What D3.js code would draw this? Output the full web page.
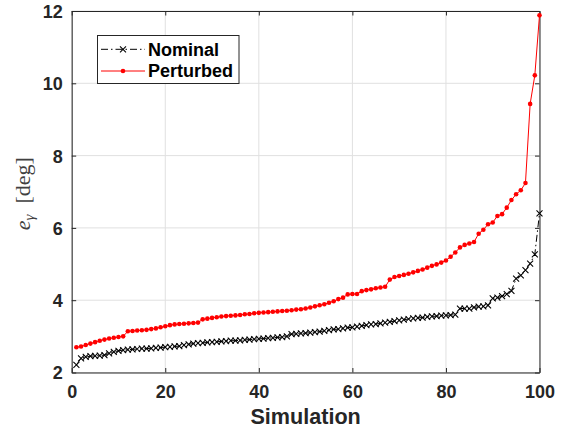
<!DOCTYPE html>
<html>
<head>
<meta charset="utf-8">
<script src="https://cdn.jsdelivr.net/npm/d3@7"></script>
<style>
  html, body { margin: 0; padding: 0; background: #fff; }
  svg { display: block; }
</style>
</head>
<body>
<svg id="chart" width="569" height="431"></svg>
<script>
// ---- data ----
const simulations = d3.range(1, 101);
const nominal = [
  2.21, 2.39, 2.43, 2.45, 2.46, 2.47, 2.48, 2.53, 2.57, 2.60,
  2.62, 2.63, 2.64, 2.65, 2.66, 2.66, 2.67, 2.68, 2.69, 2.70,
  2.71, 2.72, 2.73, 2.76, 2.78, 2.80, 2.81, 2.82, 2.83, 2.84,
  2.85, 2.86, 2.87, 2.88, 2.88, 2.89, 2.90, 2.91, 2.92, 2.93,
  2.94, 2.95, 2.96, 2.97, 2.98, 3.00, 3.06, 3.07, 3.08, 3.09,
  3.10, 3.12, 3.13, 3.15, 3.17, 3.19, 3.20, 3.22, 3.24, 3.25,
  3.27, 3.29, 3.31, 3.33, 3.34, 3.36, 3.38, 3.40, 3.42, 3.44,
  3.46, 3.48, 3.50, 3.51, 3.52, 3.54, 3.55, 3.56, 3.57, 3.58,
  3.59, 3.60, 3.77, 3.77, 3.77, 3.80, 3.82, 3.83, 3.86, 4.05,
  4.07, 4.11, 4.17, 4.26, 4.60, 4.69, 4.83, 5.01, 5.27, 6.40
];
const perturbed = [
  2.70, 2.72, 2.76, 2.80, 2.84, 2.88, 2.91, 2.94, 2.96, 2.98,
  3.00, 3.14, 3.15, 3.16, 3.17, 3.18, 3.20, 3.22, 3.25, 3.28,
  3.31, 3.33, 3.34, 3.35, 3.36, 3.37, 3.38, 3.47, 3.49, 3.51,
  3.53, 3.55, 3.56, 3.57, 3.58, 3.59, 3.61, 3.62, 3.64, 3.65,
  3.66, 3.67, 3.68, 3.69, 3.70, 3.71, 3.72, 3.74, 3.75, 3.77,
  3.80, 3.83, 3.86, 3.89, 3.93, 3.97, 4.03, 4.07, 4.16, 4.17,
  4.17, 4.25, 4.28, 4.30, 4.33, 4.35, 4.37, 4.57, 4.64, 4.67,
  4.70, 4.73, 4.77, 4.81, 4.85, 4.90, 4.95, 4.99, 5.04, 5.10,
  5.20, 5.32, 5.46, 5.53, 5.57, 5.61, 5.84, 5.95, 6.10, 6.15,
  6.33, 6.38, 6.56, 6.77, 6.93, 7.04, 7.24, 9.43, 10.22, 11.88
];
const xTicks = [0, 20, 40, 60, 80, 100];
const yTicks = [2, 4, 6, 8, 10, 12];
const seriesNames = ["Nominal", "Perturbed"];
const xLabel = "Simulation";

// ---- layout ----
const svg = d3.select("#chart");
const M = { l: 71.7, r: 539.5, t: 11, b: 372.5 };
const x = d3.scaleLinear().domain([0, 100]).range([M.l, M.r]);
const y = d3.scaleLinear().domain([2, 12]).range([M.b, M.t]);
const axisColor = "#262626";
const font = "'Liberation Sans', Arial, Helvetica, sans-serif";

// grid
const grid = svg.append("g");
grid.selectAll("line.gx").data(xTicks).join("line")
  .attr("x1", d => x(d)).attr("x2", d => x(d))
  .attr("y1", M.t).attr("y2", M.b)
  .attr("stroke", "#e0e0e0").attr("stroke-width", 1);
grid.selectAll("line.gy").data(yTicks).join("line")
  .attr("y1", d => y(d)).attr("y2", d => y(d))
  .attr("x1", M.l).attr("x2", M.r)
  .attr("stroke", "#e0e0e0").attr("stroke-width", 1);

// axes (ticks inward)
const tickLen = 4.5;
const fmt = d3.format("d");
const xAxisB = svg.append("g").attr("transform", `translate(0,${M.b})`)
  .call(d3.axisBottom(x).tickValues(xTicks).tickFormat(fmt).tickSizeInner(-tickLen).tickSizeOuter(0).tickPadding(13));
const xAxisT = svg.append("g").attr("transform", `translate(0,${M.t})`)
  .call(d3.axisTop(x).tickValues(xTicks).tickFormat("").tickSizeInner(-tickLen).tickSizeOuter(0));
const yAxisL = svg.append("g").attr("transform", `translate(${M.l},0)`)
  .call(d3.axisLeft(y).tickValues(yTicks).tickFormat(fmt).tickSizeInner(-tickLen).tickSizeOuter(0).tickPadding(9));
const yAxisR = svg.append("g").attr("transform", `translate(${M.r},0)`)
  .call(d3.axisRight(y).tickValues(yTicks).tickFormat("").tickSizeInner(-tickLen).tickSizeOuter(0));

[xAxisB, xAxisT, yAxisL, yAxisR].forEach(g => {
  g.selectAll("path.domain").attr("stroke", axisColor).attr("stroke-width", 1);
  g.selectAll(".tick line").attr("stroke", axisColor).attr("stroke-width", 1);
  g.selectAll(".tick text").attr("fill", axisColor)
    .attr("font-family", font).attr("font-weight", "bold").attr("font-size", 18);
});
yAxisL.selectAll(".tick text").attr("dy", "0.36em");

// series
const nomData = simulations.map((s, i) => ({ s, v: nominal[i] }));
const perData = simulations.map((s, i) => ({ s, v: perturbed[i] }));
const line = d3.line().x(d => x(d.s)).y(d => y(d.v));
const plot = svg.append("g");

plot.append("path").datum(nomData)
  .attr("d", line).attr("fill", "none").attr("stroke", "#000")
  .attr("stroke-width", 1).attr("stroke-dasharray", "7,3,1.5,3");
const xm = 3;
plot.selectAll("path.xm").data(nomData).join("path")
  .attr("d", d => `M${x(d.s)-xm},${y(d.v)-xm}L${x(d.s)+xm},${y(d.v)+xm}M${x(d.s)-xm},${y(d.v)+xm}L${x(d.s)+xm},${y(d.v)-xm}`)
  .attr("stroke", "#000").attr("stroke-width", 1.05).attr("fill", "none");

plot.append("path").datum(perData)
  .attr("d", line).attr("fill", "none").attr("stroke", "#ff0000").attr("stroke-width", 1);
plot.selectAll("circle.pm").data(perData).join("circle")
  .attr("cx", d => x(d.s)).attr("cy", d => y(d.v)).attr("r", 2.3)
  .attr("fill", "#ff0000");

// axis labels
svg.append("text").attr("x", x(50)).attr("y", 424)
  .attr("text-anchor", "middle").attr("font-family", font)
  .attr("font-weight", "bold").attr("font-size", 21.6).attr("fill", axisColor)
  .text(xLabel);

const yl = svg.append("text")
  .attr("transform", `translate(30,${(M.t + M.b) / 2 + 2}) rotate(-90)`)
  .attr("text-anchor", "middle").attr("font-family", "'Liberation Serif', 'DejaVu Serif', serif")
  .attr("font-size", 22).attr("fill", "#404040");
yl.append("tspan").attr("font-style", "italic").text("e");
yl.append("tspan").attr("font-style", "italic").attr("font-size", 15).attr("dy", 4).text("γ");
yl.append("tspan").attr("dy", -4).text("\u2002[deg]");

// legend
const lg = svg.append("g");
lg.append("rect").attr("x", 97.5).attr("y", 35.5).attr("width", 141.5).attr("height", 48)
  .attr("fill", "#fff").attr("stroke", axisColor).attr("stroke-width", 1);
const legY = [49.3, 71];
const lx1 = 101, lx2 = 145, lxm = (lx1 + lx2) / 2;
lg.append("line").attr("x1", lx1).attr("x2", lx2).attr("y1", legY[0]).attr("y2", legY[0])
  .attr("stroke", "#000").attr("stroke-width", 1).attr("stroke-dasharray", "7,3,1.5,3");
lg.append("path")
  .attr("d", `M${lxm-xm},${legY[0]-xm}L${lxm+xm},${legY[0]+xm}M${lxm-xm},${legY[0]+xm}L${lxm+xm},${legY[0]-xm}`)
  .attr("stroke", "#000").attr("stroke-width", 1.05);
lg.append("line").attr("x1", lx1).attr("x2", lx2).attr("y1", legY[1]).attr("y2", legY[1])
  .attr("stroke", "#ff0000").attr("stroke-width", 1);
lg.append("circle").attr("cx", lxm).attr("cy", legY[1]).attr("r", 2.3).attr("fill", "#ff0000");
lg.selectAll("text.lt").data(seriesNames).join("text")
  .attr("x", 148).attr("y", (d, i) => legY[i] + 6.2)
  .attr("font-family", font).attr("font-weight", "bold").attr("font-size", 18)
  .attr("fill", "#000").text(d => d);
</script>
</body>
</html>
